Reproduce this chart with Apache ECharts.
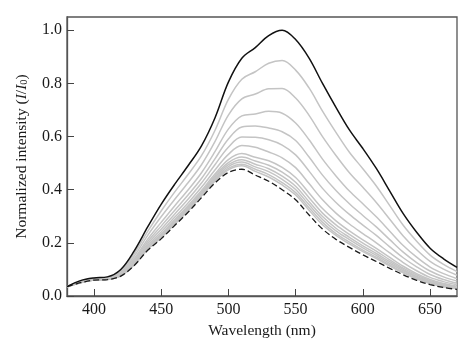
<!DOCTYPE html>
<html>
<head>
<meta charset="utf-8">
<script src="https://cdn.jsdelivr.net/npm/echarts@6/dist/echarts.min.js"></script>
<style>html,body{margin:0;padding:0;background:#fff}#c{width:474px;height:358px}</style>
</head>
<body>
<div id="c"></div>
<script>
const wavelength = [380,390,400,410,420,430,440,450,460,470,480,490,500,510,520,530,540,550,560,570,580,590,600,610,620,630,640,650,660,670];

const initial = [0.035,0.058,0.068,0.072,0.100,0.170,0.260,0.345,0.420,0.490,0.565,0.670,0.805,0.895,0.935,0.980,1.000,0.965,0.895,0.800,0.710,0.625,0.555,0.480,0.395,0.310,0.240,0.180,0.140,0.108];
const final = [0.035,0.050,0.060,0.062,0.075,0.115,0.172,0.215,0.265,0.315,0.370,0.425,0.465,0.477,0.455,0.432,0.400,0.362,0.305,0.252,0.213,0.183,0.155,0.130,0.104,0.080,0.059,0.043,0.032,0.025];

const g1 = [0.035,0.056,0.066,0.070,0.095,0.160,0.243,0.320,0.391,0.457,0.528,0.623,0.740,0.816,0.844,0.876,0.886,0.850,0.783,0.696,0.616,0.541,0.479,0.414,0.340,0.266,0.206,0.154,0.119,0.092];
const g2 = [0.035,0.055,0.065,0.068,0.091,0.150,0.228,0.298,0.363,0.426,0.494,0.581,0.681,0.742,0.760,0.780,0.781,0.745,0.680,0.600,0.529,0.464,0.409,0.352,0.289,0.226,0.174,0.130,0.101,0.078];
const g3 = [0.035,0.054,0.064,0.067,0.087,0.141,0.214,0.277,0.339,0.399,0.464,0.543,0.628,0.678,0.685,0.695,0.688,0.651,0.588,0.515,0.452,0.395,0.347,0.298,0.244,0.190,0.146,0.109,0.084,0.065];
const g4 = [0.035,0.053,0.063,0.066,0.084,0.135,0.205,0.263,0.322,0.380,0.442,0.516,0.591,0.636,0.640,0.632,0.618,0.585,0.523,0.455,0.397,0.347,0.303,0.260,0.212,0.165,0.126,0.094,0.072,0.056];
const g5 = [0.035,0.052,0.062,0.065,0.082,0.130,0.197,0.251,0.308,0.364,0.425,0.494,0.560,0.598,0.597,0.588,0.568,0.531,0.470,0.405,0.352,0.307,0.267,0.228,0.185,0.144,0.110,0.081,0.062,0.048];
const g6 = [0.035,0.052,0.062,0.064,0.080,0.126,0.190,0.241,0.296,0.350,0.409,0.474,0.533,0.566,0.560,0.542,0.520,0.483,0.423,0.362,0.312,0.271,0.235,0.200,0.162,0.126,0.095,0.070,0.054,0.042];
const g7 = [0.035,0.051,0.061,0.063,0.079,0.123,0.184,0.233,0.287,0.340,0.397,0.459,0.513,0.536,0.522,0.509,0.484,0.446,0.388,0.329,0.283,0.245,0.211,0.179,0.145,0.112,0.084,0.062,0.047,0.037];
const g8 = [0.035,0.051,0.061,0.063,0.078,0.121,0.182,0.229,0.282,0.334,0.391,0.452,0.502,0.523,0.508,0.492,0.466,0.428,0.370,0.312,0.268,0.232,0.199,0.169,0.136,0.105,0.079,0.058,0.044,0.034];
const g9 = [0.035,0.051,0.061,0.063,0.077,0.120,0.179,0.226,0.278,0.330,0.387,0.446,0.494,0.513,0.496,0.479,0.451,0.413,0.355,0.299,0.255,0.221,0.189,0.160,0.129,0.100,0.074,0.055,0.041,0.032];
const g10 = [0.035,0.050,0.060,0.063,0.077,0.119,0.178,0.223,0.275,0.326,0.383,0.441,0.487,0.504,0.486,0.468,0.439,0.401,0.343,0.288,0.245,0.212,0.181,0.153,0.123,0.095,0.071,0.052,0.039,0.030];
const g11 = [0.035,0.050,0.060,0.062,0.076,0.117,0.176,0.221,0.272,0.323,0.379,0.436,0.480,0.496,0.477,0.457,0.427,0.389,0.332,0.277,0.235,0.203,0.173,0.146,0.117,0.090,0.067,0.049,0.037,0.029];
const g12 = [0.035,0.050,0.060,0.062,0.076,0.117,0.175,0.219,0.270,0.320,0.376,0.432,0.475,0.490,0.469,0.448,0.418,0.380,0.323,0.268,0.228,0.196,0.167,0.141,0.113,0.087,0.064,0.047,0.035,0.028];

const grayCurves = [g1,g2,g3,g4,g5,g6,g7,g8,g9,g10,g11,g12];
const xTicks = [400,450,500,550,600,650];
const yTicks = [0,0.2,0.4,0.6,0.8,1.0];

const pair = arr => wavelength.map((w,i) => [w, arr[i]]);
const FONT = '"Liberation Serif", "DejaVu Serif", serif';

const series = [];
grayCurves.forEach((g, k) => {
  series.push({type:'line', name:'g'+(k+1), data: pair(g), smooth:0.35, symbol:'none',
    lineStyle:{color:'#c4c4c4', width:1.5}, z:2});
});
series.push({type:'line', name:'final', data: pair(final), smooth:0.35, symbol:'none',
  lineStyle:{color:'#1a1a1a', width:1.3, type:[6,3]}, z:3});
series.push({type:'line', name:'initial', data: pair(initial), smooth:0.35, symbol:'none',
  lineStyle:{color:'#111', width:1.5}, z:4});

const chart = echarts.init(document.getElementById('c'), null, {renderer:'canvas'});
chart.setOption({
  animation:false,
  backgroundColor:'#fff',
  grid:{left:67, right:17, top:17, bottom:62, show:true, borderColor:'#555', borderWidth:1.3, backgroundColor:'transparent'},
  xAxis:{type:'value', min:380, max:670,
    name:'Wavelength (nm)', nameLocation:'middle', nameGap:27,
    nameTextStyle:{fontFamily:FONT, fontSize:15.5, color:'#1a1a1a'},
    axisLine:{show:true, onZero:false, lineStyle:{color:'#555', width:1.3}},
    axisTick:{show:true, inside:true, length:7, customValues:xTicks, lineStyle:{color:'#444', width:1}},
    axisLabel:{customValues:xTicks, fontFamily:FONT, fontSize:16, color:'#1a1a1a', margin:6},
    splitLine:{show:false}},
  yAxis:{type:'value', min:0, max:1.05,
    name:'{n|Normalized intensity (}{i|I}{n|/}{i|I}{s|0}{n|)}', nameLocation:'middle', nameGap:37,
    nameTextStyle:{fontFamily:FONT, fontSize:15.5, color:'#1a1a1a',
      rich:{n:{fontFamily:FONT, fontSize:15.5, color:'#1a1a1a'},
            i:{fontFamily:FONT, fontSize:15.5, fontStyle:'italic', color:'#1a1a1a'},
            s:{fontFamily:FONT, fontSize:10.5, color:'#1a1a1a', padding:[6,0,0,0]}}},
    axisLine:{show:true, lineStyle:{color:'#555', width:1.3}},
    axisTick:{show:true, inside:true, length:7, customValues:yTicks, lineStyle:{color:'#444', width:1}},
    axisLabel:{customValues:yTicks, formatter: v => v.toFixed(1), fontFamily:FONT, fontSize:16, color:'#1a1a1a', margin:5},
    splitLine:{show:false}},
  series: series
});
</script>
</body>
</html>
